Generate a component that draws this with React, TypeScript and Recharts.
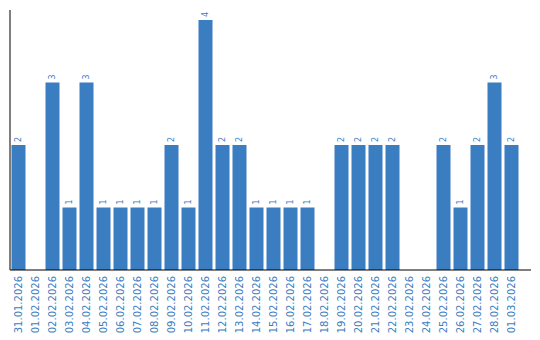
import { BarChart, Bar, XAxis, YAxis, LabelList } from 'recharts';

const dates = [
  '31.01.2026', '01.02.2026', '02.02.2026', '03.02.2026', '04.02.2026',
  '05.02.2026', '06.02.2026', '07.02.2026', '08.02.2026', '09.02.2026',
  '10.02.2026', '11.02.2026', '12.02.2026', '13.02.2026', '14.02.2026',
  '15.02.2026', '16.02.2026', '17.02.2026', '18.02.2026', '19.02.2026',
  '20.02.2026', '21.02.2026', '22.02.2026', '23.02.2026', '24.02.2026',
  '25.02.2026', '26.02.2026', '27.02.2026', '28.02.2026', '01.03.2026',
];

const counts = [
  2, 0, 3, 1, 3, 1, 1, 1, 1, 2,
  1, 4, 2, 2, 1, 1, 1, 1, 0, 2,
  2, 2, 2, 0, 0, 2, 1, 2, 3, 2,
];

const BLUE = '#3b7dc1';
const FONT = '"DejaVu Sans", Verdana, sans-serif';

const chartData = dates.map((d, i) => ({ date: d, count: counts[i] }));

// rotated date labels under the axis
function DateTick(props: any) {
  const { x, y, payload } = props;
  const ty = y + 6;
  return (
    <text
      x={x}
      y={ty}
      transform={`rotate(-90 ${x} ${ty})`}
      textAnchor="end"
      dominantBaseline="central"
      fill={BLUE}
      fontSize={10}
      fontFamily={FONT}
    >
      {payload.value}
    </text>
  );
}

// rotated count above each bar, skipped for empty days
function CountLabel(props: any) {
  const { x, y, width, value } = props;
  if (!value) return null;
  const cx = x + width / 2;
  const cy = y - 3;
  return (
    <text
      x={cx}
      y={cy}
      transform={`rotate(-90 ${cx} ${cy})`}
      textAnchor="start"
      dominantBaseline="central"
      fill={BLUE}
      fontSize={8}
      fontFamily={FONT}
    >
      {value}
    </text>
  );
}

export default function App() {
  return (
    <div style={{ width: 532, height: 332 }}>
      <BarChart
        width={532}
        height={332}
        data={chartData}
        margin={{ top: 2, right: 9, bottom: 0, left: 0 }}
        barCategoryGap={1.5}
      >
        <XAxis
          dataKey="date"
          interval={0}
          height={70}
          tickLine={false}
          tickSize={0}
          tickMargin={0}
          axisLine={{ stroke: '#000', strokeWidth: 1 }}
          padding={{ left: 0, right: 11 }}
          tick={<DateTick />}
        />
        <YAxis
          width={2}
          domain={[0, 4.16]}
          tick={false}
          tickLine={false}
          axisLine={{ stroke: '#000', strokeWidth: 1 }}
        />
        <Bar dataKey="count" fill={BLUE} isAnimationActive={false}>
          <LabelList dataKey="count" content={<CountLabel />} />
        </Bar>
      </BarChart>
    </div>
  );
}
